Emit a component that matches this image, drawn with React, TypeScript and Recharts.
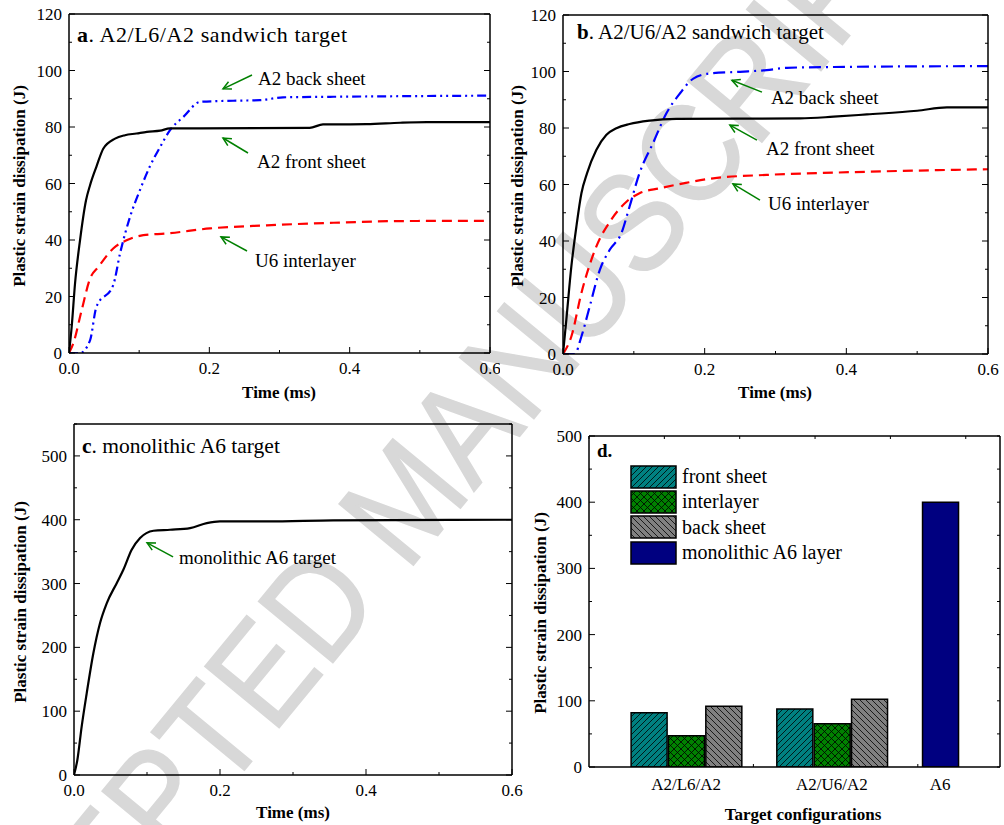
import React from 'react'
import {
  LineChart,
  Line,
  BarChart,
  Bar,
  Cell,
  XAxis,
  YAxis,
  ReferenceLine,
  ReferenceDot,
  Legend,
} from 'recharts'

const SERIF = '"Liberation Serif", "Times New Roman", serif'
const GREEN = '#008000'

// ---- a. A2/L6/A2 sandwich target (time in ms, energy in J) ----
const aFrontT = [0, 0.0038, 0.0086, 0.0157, 0.0242, 0.03, 0.039, 0.049, 0.0656, 0.0798, 0.096, 0.111, 0.13, 0.144, 0.187, 0.343, 0.362, 0.424, 0.472, 0.51, 0.6]
const aFrontE = [0, 9.2, 24.6, 39.9, 54, 59.4, 65.9, 72.4, 75.9, 77.1, 77.7, 78.3, 78.7, 79.5, 79.5, 79.7, 80.9, 81, 81.5, 81.7, 81.7]
const aBackT = [0, 0.0157, 0.03, 0.039, 0.063, 0.0727, 0.087, 0.101, 0.115, 0.13, 0.144, 0.163, 0.187, 0.234, 0.272, 0.305, 0.377, 0.472, 0.6]
const aBackE = [0, 0, 4.5, 16.3, 24, 35.2, 48.2, 57.6, 65.9, 73, 78.9, 83.6, 88.9, 89.3, 89.5, 90.5, 90.7, 90.9, 91.1]
const aInterT = [0, 0.006, 0.018, 0.03, 0.042, 0.063, 0.082, 0.106, 0.139, 0.201, 0.282, 0.377, 0.472, 0.6]
const aInterE = [0, 3.3, 15.1, 26.3, 30.5, 37, 39.9, 41.7, 42.3, 44.1, 45.2, 46.1, 46.7, 46.8]

// ---- b. A2/U6/A2 sandwich target ----
const bFrontT = [0, 0.0047, 0.0118, 0.0189, 0.026, 0.034, 0.047, 0.061, 0.0754, 0.094, 0.1225, 0.16, 0.335, 0.382, 0.429, 0.5, 0.542, 0.6]
const bFrontE = [0, 12.1, 31, 45.1, 56.9, 64, 72.2, 77.5, 79.9, 81.4, 82.6, 83.2, 83.4, 84, 84.8, 86.1, 87.3, 87.3]
const bBackT = [0, 0.0165, 0.026, 0.0377, 0.052, 0.066, 0.0825, 0.094, 0.108, 0.127, 0.146, 0.165, 0.184, 0.207, 0.25, 0.2875, 0.316, 0.382, 0.6]
const bBackE = [0, 0, 6.2, 16.8, 29.8, 36.9, 42.8, 52.2, 64, 74.6, 85.2, 92.2, 97.5, 99.3, 99.9, 100.5, 101.3, 101.6, 101.9]
const bInterT = [0, 0.0118, 0.026, 0.047, 0.068, 0.0896, 0.108, 0.137, 0.17, 0.212, 0.2875, 0.382, 0.476, 0.6]
const bInterE = [0, 6.2, 21.6, 38, 47.5, 53.9, 56.9, 58.7, 60.4, 62.2, 63.4, 64.2, 64.8, 65.4]

// ---- c. monolithic A6 target ----
const cMonoT = [0, 0.0046, 0.0105, 0.0174, 0.0265, 0.0356, 0.0448, 0.0585, 0.0676, 0.079, 0.0905, 0.1088, 0.1316, 0.159, 0.1819, 0.2, 0.264, 0.355, 0.6]
const cMonoE = [0, 23.5, 75.8, 128, 190.8, 237.9, 269, 300.6, 321.5, 352.9, 371.2, 382.7, 384.3, 386.9, 394.7, 397.3, 397.3, 398.9, 400]

// ---- d. totals per target configuration ----
const configs = ['A2/L6/A2', 'A2/U6/A2', 'A6']
const frontSheet = [82.1, 87.6]
const interlayer = [47.3, 65.5]
const backSheet = [91.6, 102.2]
const monolithic = [399.8]
const legendNames = ['front sheet', 'interlayer', 'back sheet', 'monolithic A6 layer']

const timeTicks = [0, 0.1, 0.2, 0.3, 0.4, 0.5, 0.6]

const zip = (t: number[], e: number[]) => t.map((v, i) => ({ t: v, e: e[i] }))
const onStep = (v: number, s: number) => Math.abs(v / s - Math.round(v / s)) < 1e-6
const range = (step: number, max: number) =>
  Array.from({ length: Math.round(max / step) + 1 }, (_, i) => +(i * step).toFixed(3))

type Side = 'left' | 'right' | 'top' | 'bottom'

// draws inward-pointing frame ticks plus the labels, Origin style
function frameTick(side: Side, lenOf: (v: number) => number, labelOf: (v: number) => string = () => '', gap = 21) {
  return (props: any) => {
    const { x, y, payload } = props
    const v = payload.value as number
    const len = lenOf(v)
    const label = labelOf(v)
    let x2 = x
    let y2 = y
    if (side === 'bottom') y2 = y - len
    if (side === 'top') y2 = y + len
    if (side === 'left') x2 = x + len
    if (side === 'right') x2 = x - len
    return (
      <g>
        {len > 0 && <line x1={x} y1={y} x2={x2} y2={y2} stroke="#000" strokeWidth={1} />}
        {label && side === 'bottom' && (
          <text x={x} y={y + gap} textAnchor="middle" fontSize={17} fontFamily={SERIF} fill="#000">
            {label}
          </text>
        )}
        {label && side === 'left' && (
          <text x={x - 7} y={y + 6} textAnchor="end" fontSize={17} fontFamily={SERIF} fill="#000">
            {label}
          </text>
        )}
      </g>
    )
  }
}

const AXIS_LINE = { stroke: '#000', strokeWidth: 1.5 }
const axisBase = { tickSize: 0, tickMargin: 0, tickLine: false, interval: 0 as const, axisLine: AXIS_LINE }

function boxAxes(opts: {
  leftW: number
  bottomH: number
  xDomain: [number, number]
  xTicks: number[]
  xLen: (v: number) => number
  xLabel: (v: number) => string
  topTicks?: number[]
  topLen?: (v: number) => number
  yDomain: [number, number]
  yTicks: number[]
  yLen: (v: number) => number
  yLabel: (v: number) => string
  rightLen?: (v: number) => number
  dataKey?: string
  gap?: number
}) {
  return [
    <XAxis key="xb" type="number" dataKey={opts.dataKey ?? 't'} domain={opts.xDomain} ticks={opts.xTicks} height={opts.bottomH}
      allowDataOverflow {...axisBase} tick={frameTick('bottom', opts.xLen, opts.xLabel, opts.gap)} />,
    <XAxis key="xt" xAxisId="top" orientation="top" type="number" domain={opts.xDomain} ticks={opts.topTicks ?? opts.xTicks}
      height={1} allowDataOverflow {...axisBase} tick={frameTick('top', opts.topLen ?? opts.xLen)} />,
    <YAxis key="yl" type="number" domain={opts.yDomain} ticks={opts.yTicks} width={opts.leftW} allowDataOverflow
      {...axisBase} tick={frameTick('left', opts.yLen, opts.yLabel)} />,
    <YAxis key="yr" yAxisId="right" orientation="right" type="number" domain={opts.yDomain} ticks={opts.yTicks} width={1}
      allowDataOverflow {...axisBase} tick={frameTick('right', opts.rightLen ?? opts.yLen)} />,
  ]
}

function ArrowShape(props: any) {
  const { x1, y1, x2, y2 } = props
  const a = Math.atan2(y2 - y1, x2 - x1)
  const h = 8
  const w = 4
  const bx = x2 - h * Math.cos(a)
  const by = y2 - h * Math.sin(a)
  const p1 = `${bx + w * Math.sin(a)},${by - w * Math.cos(a)}`
  const p2 = `${bx - w * Math.sin(a)},${by + w * Math.cos(a)}`
  return (
    <g>
      <line x1={x1} y1={y1} x2={x2} y2={y2} stroke={GREEN} strokeWidth={1.5} />
      <polyline points={`${p1} ${x2},${y2} ${p2}`} fill="none" stroke={GREEN} strokeWidth={1.5} />
    </g>
  )
}

function note(key: string, tail: [number, number], head: [number, number], text: [number, number], value: string) {
  return [
    <ReferenceLine key={key + 'l'} segment={[{ x: tail[0], y: tail[1] }, { x: head[0], y: head[1] }]} shape={ArrowShape} ifOverflow="visible" />,
    <ReferenceDot key={key + 'd'} x={text[0]} y={text[1]} r={0} ifOverflow="visible"
      label={{ value, position: 'right', offset: 0, fontSize: 19, fill: '#000', fontFamily: SERIF }} />,
  ]
}

const tenTickLen = (major: number) => (v: number) => (onStep(v, major) ? 6 : 3)
const timeLabel = (v: number) => (onStep(v, 0.2) ? v.toFixed(1) : '')

function SandwichPanel(props: {
  width: number
  margin: { top: number; right: number; bottom: number; left: number }
  leftW: number
  bottomH: number
  front: { t: number; e: number }[]
  back: { t: number; e: number }[]
  inter: { t: number; e: number }[]
  backDash: string
  notes: React.ReactNode[]
}) {
  return (
    <LineChart width={props.width} height={400} margin={props.margin}>
      {boxAxes({
        leftW: props.leftW,
        bottomH: props.bottomH,
        xDomain: [0, 0.6],
        xTicks: timeTicks,
        xLen: tenTickLen(0.2),
        xLabel: timeLabel,
        yDomain: [0, 120],
        yTicks: range(10, 120),
        yLen: tenTickLen(20),
        yLabel: (v) => (onStep(v, 20) ? String(v) : ''),
      })}
      <Line data={props.inter} dataKey="e" type="monotone" stroke="#ff0000" strokeWidth={2.2} strokeDasharray="10 6" dot={false} activeDot={false} isAnimationActive={false} />
      <Line data={props.back} dataKey="e" type="monotone" stroke="#0000ff" strokeWidth={2.2} strokeDasharray={props.backDash} dot={false} activeDot={false} isAnimationActive={false} />
      <Line data={props.front} dataKey="e" type="monotone" stroke="#000" strokeWidth={2.2} dot={false} activeDot={false} isAnimationActive={false} />
      {props.notes}
    </LineChart>
  )
}

// bar layout: centre of the first bar of each group on a 0..11 slot axis
const GROUP_X = [1.6, 5.5, 9.4]
const FILLS = ['url(#hatchFront)', 'url(#hatchInter)', 'url(#hatchBack)', '#000080']
const barRows = [
  ...[0, 1].flatMap((g) =>
    [frontSheet[g], interlayer[g], backSheet[g]].map((v, k) => ({ x: GROUP_X[g] + k, v, kind: k })),
  ),
  ...monolithic.map((v) => ({ x: GROUP_X[2], v, kind: 3 })),
]
const configX = [GROUP_X[0] + 1, GROUP_X[1] + 1, GROUP_X[2]]
const barMinor = [4.4, 8.8]

function BarLegend() {
  return (
    <div style={{ fontFamily: SERIF, fontSize: 20, color: '#000' }}>
      {legendNames.map((name, i) => (
        <div key={name} style={{ display: 'flex', alignItems: 'center', height: 25.3 }}>
          <svg width={47} height={24} style={{ display: 'block' }}>
            <rect x={1} y={1} width={45} height={22} fill={FILLS[i]} stroke="#000" strokeWidth={1.5} />
          </svg>
          <span style={{ marginLeft: 5, whiteSpace: 'nowrap' }}>{name}</span>
        </div>
      ))}
    </div>
  )
}

const place = (left: number, top: number): React.CSSProperties => ({ position: 'absolute', left, top })

export default function App() {
  const txt = { fontFamily: SERIF, fill: '#000' }
  return (
    <div style={{ position: 'absolute', left: 0, top: 0, width: 1004, height: 825, background: '#fff', overflow: 'hidden' }}>
      <svg width={1004} height={825} style={{ position: 'absolute', left: 0, top: 0 }}>
        <text x={405} y={499} textAnchor="middle" dominantBaseline="central" fontSize={140} textLength={1560}
          lengthAdjust="spacingAndGlyphs" fontFamily='"Liberation Sans", Arial, sans-serif' fill="#d8d8d8"
          stroke="#d8d8d8" strokeWidth={1.5} transform="rotate(-50.5 405 499)">
          ACCEPTED MANUSCRIPT
        </text>
        <text x={77} y={42} fontSize={22} textLength={270} lengthAdjust="spacing" {...txt}><tspan fontWeight="bold">a</tspan>. A2/L6/A2 sandwich target</text>
        <text x={577} y={39} fontSize={21} {...txt}><tspan fontWeight="bold">b</tspan>. A2/U6/A2 sandwich target</text>
        <text x={82} y={453} fontSize={21.5} {...txt}><tspan fontWeight="bold">c</tspan>. monolithic A6 target</text>
        <text x={597} y={457} fontSize={19} fontWeight="bold" {...txt}>d.</text>
        <text x={279} y={398} fontSize={17} fontWeight="bold" textAnchor="middle" {...txt}>Time (ms)</text>
        <text x={775} y={398} fontSize={17} fontWeight="bold" textAnchor="middle" {...txt}>Time (ms)</text>
        <text x={293} y={818} fontSize={17} fontWeight="bold" textAnchor="middle" {...txt}>Time (ms)</text>
        <text x={803} y={820} fontSize={17} fontWeight="bold" textAnchor="middle" {...txt}>Target configurations</text>
        {[[19, 186], [517, 186], [20, 602], [540, 613]].map(([x, y]) => (
          <text key={`${x}`} x={x} y={y} fontSize={17} fontWeight="bold" textAnchor="middle" dominantBaseline="central"
            transform={`rotate(-90 ${x} ${y})`} {...txt}>
            Plastic strain dissipation (J)
          </text>
        ))}
      </svg>

      <div style={place(0, 0)}>
        <SandwichPanel
          width={500}
          margin={{ top: 13, right: 9, bottom: 2, left: 0 }}
          leftW={69}
          bottomH={45}
          front={zip(aFrontT, aFrontE)}
          back={zip(aBackT, aBackE)}
          inter={zip(aInterT, aInterE)}
          backDash="9 4 2 4 2 4"
          notes={[
            ...note('ab', [0.2608, 98.4], [0.2195, 93.5], [0.2694, 97.3], 'A2 back sheet'),
            ...note('af', [0.2551, 70.8], [0.2195, 76.1], [0.268, 68], 'A2 front sheet'),
            ...note('ai', [0.2537, 36.1], [0.2166, 41.1], [0.2651, 32.9], 'U6 interlayer'),
          ]}
        />
      </div>

      <div style={place(500, 0)}>
        <SandwichPanel
          width={504}
          margin={{ top: 14, right: 15, bottom: 2, left: 0 }}
          leftW={63}
          bottomH={44}
          front={zip(bFrontT, bFrontE)}
          back={zip(bBackT, bBackE)}
          inter={zip(bInterT, bInterE)}
          backDash="12 5 2 5"
          notes={[
            ...note('bb', [0.2809, 92.7], [0.2385, 96.9], [0.2935, 90.9], 'A2 back sheet'),
            ...note('bf', [0.2738, 75.7], [0.2356, 81], [0.2865, 72.9], 'A2 front sheet'),
            ...note('bi', [0.2781, 54.5], [0.2399, 60.2], [0.2894, 53.5], 'U6 interlayer'),
          ]}
        />
      </div>

      <div style={place(0, 400)}>
        <LineChart width={530} height={425} margin={{ top: 23, right: 17, bottom: 2, left: 0 }}>
          {boxAxes({
            leftW: 74,
            bottomH: 48,
            xDomain: [0, 0.6],
            xTicks: timeTicks,
            xLen: tenTickLen(0.2),
            xLabel: timeLabel,
            yDomain: [0, 550],
            yTicks: range(50, 550),
            yLen: tenTickLen(100),
            yLabel: (v) => (onStep(v, 100) && v <= 500 ? String(v) : ''),
          })}
          <Line data={zip(cMonoT, cMonoE)} dataKey="e" type="monotone" stroke="#000" strokeWidth={2.2} dot={false} activeDot={false} isAnimationActive={false} />
          {note('cm', [0.1357, 341.8], [0.1001, 363.8], [0.1439, 341.8], 'monolithic A6 target')}
        </LineChart>
      </div>

      <div style={place(520, 420)}>
        <BarChart width={484} height={405} data={barRows} margin={{ top: 15, right: 3, bottom: 2, left: 0 }}>
          <defs>
            <pattern id="hatchFront" patternUnits="userSpaceOnUse" width={6} height={6}>
              <rect width={6} height={6} fill="#008080" />
              <path d="M-1,1 l2,-2 M0,6 l6,-6 M5,7 l2,-2" stroke="#000" strokeWidth={0.8} />
            </pattern>
            <pattern id="hatchInter" patternUnits="userSpaceOnUse" width={7} height={7}>
              <rect width={7} height={7} fill="#008000" />
              <path d="M-1,1 l2,-2 M0,7 l7,-7 M6,8 l2,-2 M-1,6 l2,2 M0,0 l7,7 M6,-1 l2,2" stroke="#000" strokeWidth={0.8} />
            </pattern>
            <pattern id="hatchBack" patternUnits="userSpaceOnUse" width={6} height={6}>
              <rect width={6} height={6} fill="#808080" />
              <path d="M-1,5 l2,2 M0,0 l6,6 M5,-1 l2,2" stroke="#000" strokeWidth={0.8} />
            </pattern>
          </defs>
          {boxAxes({
            leftW: 69,
            bottomH: 56,
            dataKey: 'x',
            gap: 23,
            xDomain: [0, 11],
            xTicks: [...configX, ...barMinor].sort((p, q) => p - q),
            xLen: (v) => (barMinor.some((m) => Math.abs(m - v) < 1e-6) ? 3 : 0),
            xLabel: (v) => {
              const i = configX.findIndex((c) => Math.abs(c - v) < 1e-6)
              return i >= 0 ? configs[i] : ''
            },
            topTicks: range(1.1, 11),
            topLen: () => 3,
            yDomain: [0, 500],
            yTicks: range(50, 500),
            yLen: tenTickLen(100),
            yLabel: (v) => (onStep(v, 100) ? String(v) : ''),
            rightLen: () => 3,
          })}
          <Bar dataKey="v" barSize={36} stroke="#000" strokeWidth={1.5} isAnimationActive={false}>
            {barRows.map((r, i) => (
              <Cell key={i} fill={FILLS[r.kind]} />
            ))}
          </Bar>
          <Legend
            content={() => <BarLegend />}
            layout="horizontal"
            verticalAlign="middle"
            align="center"
            wrapperStyle={{ left: 110, top: 44, width: 'auto' }}
          />
        </BarChart>
      </div>
    </div>
  )
}
